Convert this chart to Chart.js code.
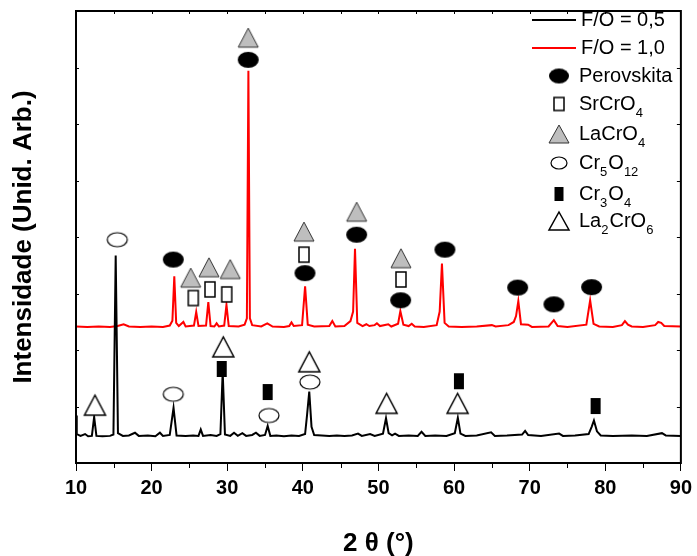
<!DOCTYPE html>
<html>
<head>
<meta charset="utf-8">
<script src="https://cdn.jsdelivr.net/npm/chart.js@4.4.0/dist/chart.umd.min.js"></script>
<style>
  html, body { margin: 0; padding: 0; background: #fff; }
</style>
</head>
<body>
<canvas id="xrd" width="697" height="556"></canvas>
<script>
// F/O = 0,5 (black pattern)
const angle05 = [10.0, 10.1, 10.6, 11.2, 11.6, 12.1, 12.4, 12.7, 13.5, 14.5, 14.95, 15.25, 15.55, 16.2, 17.0, 17.8, 18.3, 19.5, 20.5, 21.1, 21.5, 22.4, 22.9, 23.3, 24.5, 25.5, 26.2, 26.5, 26.8, 27.8, 28.6, 29.1, 29.4, 29.7, 30.4, 30.9, 31.4, 32.0, 32.5, 33.3, 33.8, 34.3, 35.0, 35.35, 35.7, 36.5, 37.5, 38.5, 39.5, 40.3, 40.55, 40.85, 41.15, 41.5, 42.5, 43.5, 44.5, 45.5, 46.5, 47.3, 47.8, 48.9, 49.5, 50.6, 51.0, 51.35, 51.8, 52.2, 52.7, 54.0, 55.2, 55.7, 56.2, 57.5, 59.0, 60.1, 60.5, 60.85, 61.5, 63.0, 64.9, 65.4, 67.0, 69.0, 69.4, 69.8, 71.5, 73.9, 74.4, 76.0, 77.8, 78.2, 78.5, 78.9, 79.4, 81.0, 83.5, 85.5, 87.5, 88.0, 90.0];
const inten05 = [10.5, 6.4, 6.0, 6.4, 5.9, 6.0, 10.2, 6.0, 5.9, 6.0, 6.3, 45.9, 6.6, 6.0, 6.1, 6.7, 6.0, 6.1, 5.9, 6.7, 6.0, 6.2, 12.2, 6.1, 6.0, 6.1, 6.0, 7.4, 6.0, 6.2, 6.0, 6.4, 20.2, 6.3, 6.0, 6.7, 6.0, 6.6, 6.0, 6.2, 6.7, 6.0, 6.2, 8.2, 6.0, 6.1, 5.9, 6.1, 6.0, 6.4, 10.5, 15.8, 8.0, 6.2, 6.1, 6.0, 6.1, 6.0, 6.1, 6.5, 6.0, 6.4, 6.0, 6.5, 9.9, 6.6, 6.1, 6.5, 6.0, 6.1, 6.0, 6.9, 6.0, 6.1, 6.0, 6.6, 10.0, 6.5, 6.0, 6.1, 6.8, 6.0, 6.1, 6.3, 7.1, 6.2, 6.0, 6.5, 6.0, 6.1, 6.4, 8.0, 9.4, 7.0, 6.1, 6.0, 6.1, 6.0, 6.6, 6.1, 6.0];

// F/O = 1,0 (red pattern)
const angle10 = [10.0, 11.5, 13.0, 14.5, 15.5, 16.3, 17.0, 18.5, 20.0, 21.5, 22.4, 22.75, 23.0, 23.25, 23.6, 24.2, 24.5, 25.6, 25.9, 26.2, 27.2, 27.5, 27.8, 28.3, 28.6, 28.9, 29.6, 29.9, 30.2, 31.5, 32.3, 32.6, 32.8, 33.0, 33.3, 34.5, 35.3, 36.0, 37.5, 38.2, 38.5, 38.8, 39.9, 40.3, 40.65, 41.5, 43.5, 43.9, 44.3, 45.5, 46.3, 46.65, 46.9, 47.2, 47.9, 48.4, 48.8, 49.5, 49.8, 50.2, 51.3, 51.7, 52.6, 52.9, 53.3, 54.0, 54.4, 54.8, 56.0, 57.7, 58.1, 58.4, 58.75, 59.3, 61.0, 63.0, 65.0, 65.5, 67.2, 67.9, 68.2, 68.5, 68.85, 69.8, 70.3, 72.5, 73.2, 73.7, 75.0, 77.5, 78.0, 78.45, 79.2, 81.0, 82.2, 82.6, 83.0, 83.5, 85.0, 86.6, 87.0, 87.4, 87.8, 90.0];
const inten10 = [30.2, 30.1, 30.2, 30.1, 30.3, 30.7, 30.2, 30.1, 30.2, 30.1, 30.4, 31.5, 41.3, 31.0, 30.3, 31.2, 30.2, 30.4, 33.4, 30.3, 30.4, 35.6, 30.3, 30.2, 30.9, 30.2, 30.4, 35.0, 30.3, 30.2, 30.6, 32.0, 86.8, 32.0, 30.5, 30.2, 30.9, 30.2, 30.1, 30.3, 31.1, 30.3, 30.5, 39.1, 30.6, 30.2, 30.3, 31.4, 30.2, 30.3, 31.4, 33.5, 47.4, 31.0, 30.3, 30.7, 30.3, 30.5, 30.9, 30.3, 30.7, 30.2, 30.8, 33.6, 30.6, 30.3, 30.8, 30.2, 30.1, 30.5, 33.5, 44.1, 31.0, 30.2, 30.1, 30.2, 30.5, 30.2, 30.5, 31.2, 32.5, 35.8, 30.7, 30.6, 30.1, 30.2, 31.6, 30.3, 30.1, 30.6, 36.0, 30.8, 30.2, 30.1, 30.5, 31.4, 30.6, 30.2, 30.1, 30.5, 31.2, 31.0, 30.3, 30.2];

// phase markers (2 theta, height of marker)
const perovskitaX = [22.87, 32.78, 40.28, 47.12, 52.94, 58.79, 68.41, 73.21, 78.19];
const perovskitaY = [45.0, 89.2, 42.0, 50.5, 36.0, 47.2, 38.8, 35.1, 38.9];
const srcro4X = [25.51, 27.72, 29.93, 40.15, 52.98];
const srcro4Y = [36.5, 38.4, 37.3, 46.1, 40.6];
const lacro4X = [25.17, 27.59, 30.40, 32.78, 40.15, 47.12, 52.98];
const lacro4Y = [41.0, 43.3, 42.9, 94.1, 51.2, 55.6, 45.3];
const cr5o12X = [15.46, 22.87, 35.52, 40.94];
const cr5o12Y = [49.4, 15.2, 10.5, 17.9];
const cr3o4X = [29.27, 35.35, 60.64, 78.72];
const cr3o4Y = [20.8, 15.7, 18.1, 12.6];
const la2cro6X = [12.51, 29.48, 40.85, 51.08, 60.47];
const la2cro6Y = [12.8, 25.7, 22.4, 13.2, 13.2];

const xTicks = [10, 20, 30, 40, 50, 60, 70, 80, 90];

const FONT = "'Liberation Sans', Arial, sans-serif";
Chart.defaults.font.family = FONT;
Chart.defaults.color = '#000';

function makeMarker(shape, w, h, fill, stroke, lw) {
    const c = document.createElement('canvas');
    const pad = Math.ceil(lw || 0) + 1;
    c.width = w + pad * 2;
    c.height = h + pad * 2;
    const g = c.getContext('2d');
    g.beginPath();
    if (shape === 'ellipse') g.ellipse(c.width / 2, c.height / 2, w / 2, h / 2, 0, 0, Math.PI * 2);
    else if (shape === 'rect') g.rect(pad, pad, w, h);
    else { g.moveTo(c.width / 2, pad); g.lineTo(pad + w, pad + h); g.lineTo(pad, pad + h); g.closePath(); }
    if (fill) { g.fillStyle = fill; g.fill(); }
    if (stroke) { g.strokeStyle = stroke; g.lineWidth = lw; g.stroke(); }
    return c;
}

const mk = {
    perov: makeMarker('ellipse', 21, 16, '#000', null, 0),
    srcro4: makeMarker('rect', 10, 15, '#fff', '#000', 1.5),
    lacro4: makeMarker('triangle', 20, 19, '#bebebe', '#333', 1),
    cr5o12: makeMarker('ellipse', 20, 14, '#fff', '#000', 1.2),
    cr3o4: makeMarker('rect', 10, 16, '#000', null, 0),
    la2cro6: makeMarker('triangle', 21, 20, '#fff', '#000', 1.5)
};
const lg = {
    perov: makeMarker('ellipse', 20, 15, '#000', null, 0),
    srcro4: makeMarker('rect', 10, 13, '#fff', '#000', 1.5),
    lacro4: makeMarker('triangle', 20, 18, '#bebebe', '#333', 1),
    cr5o12: makeMarker('ellipse', 16, 12, '#fff', '#000', 1.2),
    cr3o4: makeMarker('rect', 9, 14, '#000', null, 0),
    la2cro6: makeMarker('triangle', 20, 18, '#fff', '#000', 1.5)
};

function pts(xs, ys) { return xs.map((x, i) => ({ x: x, y: ys[i] })); }

function markerSet(label, xs, ys, img) {
    return { type: 'line', label: label, data: pts(xs, ys), showLine: false, pointStyle: img,
             pointRadius: 10, pointHoverRadius: 10, order: 0, clip: false };
}

// legend, frame and the small inner ticks
const decorations = {
    id: 'decorations',
    afterDraw(chart) {
        const ctx = chart.ctx;
        const a = chart.chartArea;
        const xs = chart.scales.x;
        const ys = chart.scales.y;
        ctx.save();
        ctx.strokeStyle = '#000';
        ctx.lineWidth = 1;
        // minor ticks on bottom axis, ticks along top / sides
        for (let v = 15; v < 90; v += 10) {
            const px = Math.round(xs.getPixelForValue(v)) + 0.5;
            ctx.beginPath(); ctx.moveTo(px, a.bottom); ctx.lineTo(px, a.bottom + 5); ctx.stroke();
        }
        for (let v = 15; v < 90; v += 5) {
            const px = Math.round(xs.getPixelForValue(v)) + 0.5;
            ctx.beginPath(); ctx.moveTo(px, a.top); ctx.lineTo(px, a.top + 3); ctx.stroke();
        }
        for (let v = 12.5; v < 100; v += 12.5) {
            const py = Math.round(ys.getPixelForValue(v)) + 0.5;
            ctx.beginPath(); ctx.moveTo(a.right, py); ctx.lineTo(a.right - 4, py); ctx.stroke();
            ctx.beginPath(); ctx.moveTo(a.left, py); ctx.lineTo(a.left + 3, py); ctx.stroke();
        }
        ctx.lineWidth = 2;
        ctx.strokeRect(a.left, a.top, a.right - a.left, a.bottom - a.top);

        // legend
        const lx = 559, tx = 579;
        ctx.lineWidth = 2;
        [['#000', 20, 'F/O = 0,5'], ['#f00', 48, 'F/O = 1,0']].forEach(r => {
            ctx.strokeStyle = r[0];
            ctx.beginPath(); ctx.moveTo(532, r[1]); ctx.lineTo(576, r[1]); ctx.stroke();
            drawParts(ctx, 581, r[1], [[r[2], false]]);
        });
        const rows = [
            [lg.perov, 76, [['Perovskita', false]]],
            [lg.srcro4, 104, [['SrCrO', false], ['4', true]]],
            [lg.lacro4, 134, [['LaCrO', false], ['4', true]]],
            [lg.cr5o12, 163, [['Cr', false], ['5', true], ['O', false], ['12', true]]],
            [lg.cr3o4, 194, [['Cr', false], ['3', true], ['O', false], ['4', true]]],
            [lg.la2cro6, 221, [['La', false], ['2', true], ['CrO', false], ['6', true]]]
        ];
        rows.forEach(r => {
            ctx.drawImage(r[0], lx - r[0].width / 2, r[1] - r[0].height / 2);
            drawParts(ctx, tx, r[1], r[2]);
        });
        ctx.restore();
    }
};

function drawParts(ctx, x, y, parts) {
    ctx.fillStyle = '#000';
    ctx.textBaseline = 'middle';
    ctx.textAlign = 'left';
    parts.forEach(p => {
        ctx.font = p[1] ? '13px ' + FONT : '20px ' + FONT;
        ctx.fillText(p[0], x, p[1] ? y + 9 : y);
        x += ctx.measureText(p[0]).width + (p[1] ? 1 : 0);
    });
}

new Chart(document.getElementById('xrd'), {
    type: 'line',
    data: {
        datasets: [
            markerSet('Perovskita', perovskitaX, perovskitaY, mk.perov),
            markerSet('SrCrO4', srcro4X, srcro4Y, mk.srcro4),
            markerSet('LaCrO4', lacro4X, lacro4Y, mk.lacro4),
            markerSet('Cr5O12', cr5o12X, cr5o12Y, mk.cr5o12),
            markerSet('Cr3O4', cr3o4X, cr3o4Y, mk.cr3o4),
            markerSet('La2CrO6', la2cro6X, la2cro6Y, mk.la2cro6),
            { label: 'F/O = 0,5', data: pts(angle05, inten05), borderColor: '#000', borderWidth: 2,
              pointRadius: 0, tension: 0, order: 1 },
            { label: 'F/O = 1,0', data: pts(angle10, inten10), borderColor: '#f00', borderWidth: 2,
              pointRadius: 0, tension: 0, order: 2 }
        ]
    },
    options: {
        responsive: false,
        animation: false,
        events: [],
        layout: { padding: { top: 10, right: 16, left: 0, bottom: 0 } },
        plugins: { legend: { display: false }, tooltip: { enabled: false } },
        scales: {
            x: {
                type: 'linear', min: 10, max: 90,
                afterBuildTicks: s => { s.ticks = xTicks.map(v => ({ value: v })); },
                afterFit: s => { s.height = 93; },
                ticks: { font: { size: 20, weight: 'bold' }, padding: 5, maxRotation: 0 },
                grid: { drawOnChartArea: false, tickLength: 8, color: '#000', lineWidth: 1 },
                border: { color: '#000', width: 2 },
                title: { display: true, text: '2 θ (°)', font: { size: 26, weight: 'bold' },
                         padding: { top: 0, bottom: -3 } }
            },
            y: {
                min: 0, max: 100,
                afterFit: s => { s.width = 76; },
                ticks: { display: false },
                grid: { display: false },
                border: { color: '#000', width: 2 },
                title: { display: true, text: 'Intensidade (Unid. Arb.)', font: { size: 26, weight: 'bold' },
                         padding: { top: 8, bottom: 0 } }
            }
        }
    },
    plugins: [decorations]
});
</script>
</body>
</html>
